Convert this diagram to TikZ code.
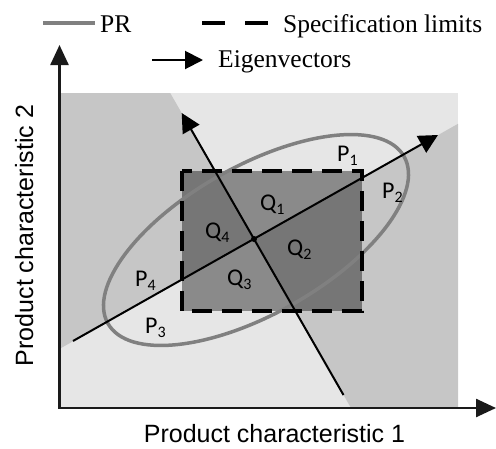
\documentclass[tikz,border=0pt]{standalone}
\usepackage{fontspec}
\setmainfont{Liberation Serif}
\newfontfamily\axisfont{Liberation Sans}
\newfontfamily\labfont{Carlito}
\usetikzlibrary{arrows.meta}
\definecolor{lightbg}{HTML}{E6E6E6}
\definecolor{darkbg}{HTML}{C6C6C6}
\definecolor{prgray}{HTML}{808080}
\definecolor{axblack}{HTML}{1A1A1A}
\newcommand{\lab}[2]{P\raisebox{-4pt}{\fontsize{16}{16}\selectfont #2}}
\newcommand{\qlab}[2]{#1\raisebox{-4pt}{\fontsize{16}{16}\selectfont #2}}
\begin{document}
\begin{tikzpicture}[x=1pt,y=-1pt,
  legtext/.style={font=\fontsize{25.5}{30}\selectfont, anchor=base west, inner sep=0pt},
  axtext/.style={font=\axisfont\fontsize{25}{30}\selectfont, anchor=base, inner sep=0pt},
  region/.style={font=\labfont\fontsize{24}{28}\selectfont, anchor=base west, inner sep=0pt},
  prline/.style={draw=prgray, line width=3.5pt},
  speclimit/.style={draw=black, line width=4pt, dash pattern=on 20pt off 10pt},
  eigen/.style={draw=black, line width=2pt, -{Triangle[length=19pt,width=19pt]}},
  axisline/.style={draw=axblack, line width=2.5pt, {Triangle[length=20pt,width=18pt]}-{Triangle[length=20pt,width=18pt]}}
]
\useasboundingbox (0,0) rectangle (496,448);
% key coordinates
\coordinate (c) at (254,239);
\coordinate (A) at (170.2,93);
\coordinate (B) at (458,123.8);
\coordinate (C) at (351,408);
\coordinate (D) at (59.5,348.9);
% background regions
\fill[lightbg] (59.5,93) rectangle (458,408);
\fill[darkbg] (59.5,93) -- (A) -- (c) -- (D) -- cycle;
\fill[darkbg] (B) -- (458,408) -- (C) -- (c) -- cycle;
% specification rectangle fill
\fill[black, opacity=0.4] (182,170.5) rectangle (361.5,311);
% PR ellipse
\draw[prline, shift={(256,240)}, rotate=29.4] (0,0) ellipse [x radius=170pt, y radius=74pt];
% specification limits border
\draw[speclimit] (182,170.5) rectangle (361.5,311);
% eigenvectors
\coordinate (majtail) at (73,341);
\coordinate (majtip) at (438,135);
\coordinate (mintail) at (343.5,395);
\coordinate (mintip) at (181.7,113);
\draw[eigen] (majtail) -- (majtip);
\draw[eigen] (mintail) -- (mintip);
\fill[black] (c) circle (3pt);
% region labels
\node[region] (p1) at (337,161) {\lab{P}{1}};
\node[region] (p2) at (382,198) {\lab{P}{2}};
\node[region] (p3) at (145,333) {\lab{P}{3}};
\node[region] (p4) at (135,286) {\lab{P}{4}};
\node[region] (q1) at (260,210) {\qlab{Q}{1}};
\node[region] (q2) at (287,255) {\qlab{Q}{2}};
\node[region] (q3) at (227,285) {\qlab{Q}{3}};
\node[region] (q4) at (205,238) {\qlab{Q}{4}};
% axes
\coordinate (o) at (59.5,408);
\coordinate (ytip) at (59.5,45);
\coordinate (xtip) at (496,408);
\draw[axisline] (ytip) -- (o) -- (xtip);
\node[axtext] (xlab) at (274.5,442) {Product characteristic 1};
\node[axtext, rotate=90] (ylab) at (33,235.5) {Product characteristic 2};
% legend
\coordinate (pr1) at (43,23);
\coordinate (pr2) at (95,23);
\draw[prline] (pr1) -- (pr2);
\node[legtext] (prtext) at (100,32) {PR};
\coordinate (sl1) at (202,23);
\coordinate (sl2) at (268,23);
\draw[draw=black, line width=4pt, dash pattern=on 23pt off 20pt] (sl1) -- (sl2);
\node[legtext] (sltext) at (283,32) {Specification limits};
\coordinate (ev1) at (152,60);
\coordinate (ev2) at (203,60);
\draw[line width=2pt, -{Triangle[length=18pt,width=18pt]}] (ev1) -- (ev2);
\node[legtext] (evtext) at (218,67) {Eigenvectors};
\end{tikzpicture}
\end{document}
